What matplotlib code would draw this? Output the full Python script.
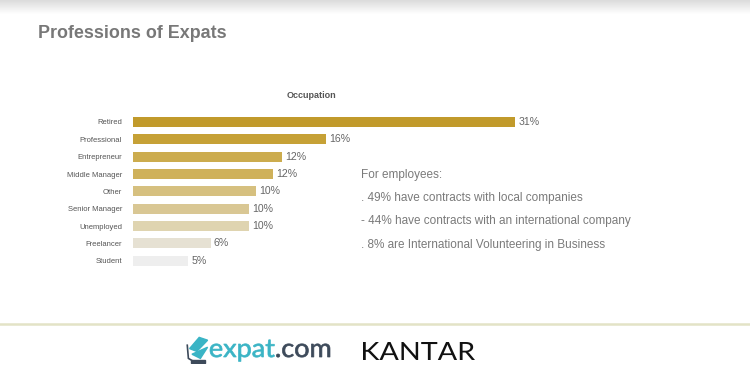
import matplotlib
matplotlib.use("Agg")
import matplotlib.pyplot as plt
import numpy as np
from matplotlib.patches import Rectangle, Polygon, PathPatch
from matplotlib.textpath import TextPath
from matplotlib.font_manager import FontProperties
from matplotlib.transforms import Affine2D

categories = ["Retired", "Professional", "Entrepreneur", "Middle Manager", "Other",
              "Senior Manager", "Unemployed", "Freelancer", "Student"]
values = [31.0, 15.7, 12.1, 11.4, 10.0, 9.4, 9.4, 6.3, 4.5]
value_labels = ["31%", "16%", "12%", "12%", "10%", "10%", "10%", "6%", "5%"]
bar_colors = ["#C19A2B", "#C6A136", "#CCAC4E", "#CFB15A", "#D6C07F",
              "#D9C794", "#DFD4B0", "#E6E1D3", "#EEEEEE"]
notes = ["For employees:",
         ". 49% have contracts with local companies",
         "- 44% have contracts with an international company",
         ". 8% are International Volunteering in Business"]

W, H = 750, 375
fig = plt.figure(figsize=(7.5, 3.75), dpi=100)
fig.patch.set_facecolor("white")

def fx(px):
    return px / W

def fy(py):
    return 1 - py / H

# top shadow gradient
bg = fig.add_axes([0, fy(14), 1, 14 / H])
grad = np.linspace(0.86, 1.0, 50).reshape(-1, 1)
bg.imshow(np.dstack([grad, grad, grad]), aspect="auto", extent=[0, 1, 0, 1])
bg.axis("off")

family = ["Liberation Sans", "DejaVu Sans"]

fig.text(fx(38), fy(33), "Professions of Expats", fontsize=12.9, fontweight="bold",
         color="#787878", va="center", ha="left", family=family)
fig.text(fx(311), fy(96), "Occupation", fontsize=6.5, fontweight="bold",
         color="#555555", va="center", ha="center", family=family)

# bar axes
left_px, right_px = 133, 700
top_px, step = 122, 17.35
n = len(categories)
ax_top = top_px - step / 2
ax_bot = top_px + step * (n - 1) + step / 2
ax = fig.add_axes([fx(left_px), fy(ax_bot), (right_px - left_px) / W, (ax_bot - ax_top) / H])
px_per = 382 / 31.0
ax.set_xlim(0, (right_px - left_px) / px_per)
ax.set_ylim(n - 0.5, -0.5)
y = np.arange(n)
ax.barh(y, values, height=0.58, color=bar_colors)
for yi, v, lab in zip(y, values, value_labels):
    ax.text(v + 0.25, yi, lab, va="center", ha="left", fontsize=7.6, color="#666666",
            family=family)
ax.set_yticks(y)
ax.set_yticklabels(categories, fontsize=5.5, color="#555555", family=family)
ax.tick_params(axis="y", length=0, pad=8)
ax.set_xticks([])
for s in ax.spines.values():
    s.set_visible(False)
ax.patch.set_alpha(0)

# notes
note_y = [175, 198, 221, 245]
for t, yy in zip(notes, note_y):
    fig.text(fx(361), fy(yy), t, fontsize=8.5, color="#7A7A7A", va="center", ha="left",
             family=family)

# footer line
fig.add_artist(plt.Line2D([0, 1], [fy(324), fy(324)], color="#E3E3C6", lw=1.8,
                          transform=fig.transFigure))

# text-as-path helper in pixel coordinates (image y downward)
def path_text(parts, x0, x1, baseline, prop, height=None, sy=None, stroke=0.0):
    full = "".join(p[0] for p in parts)
    tp = TextPath((0, 0), full, size=10, prop=prop)
    ext = tp.get_extents()
    sx = (x1 - x0) / ext.width
    if sy is None:
        sy = sx if height is None else height / ext.height
    offset = 0.0
    for txt, col in parts:
        p = TextPath((offset, 0), txt, size=10, prop=prop)
        tr = Affine2D().translate(-ext.x0, 0).scale(sx, sy).translate(x0, H - baseline)
        patch = PathPatch(p, facecolor=col, edgecolor=col if stroke else "none",
                          lw=stroke, transform=tr)
        fig.add_artist(patch)
        adv = TextPath((0, 0), txt + "|", size=10, prop=prop).get_extents().x1 - \
            TextPath((0, 0), "|", size=10, prop=prop).get_extents().x1
        offset += adv

lato = FontProperties(family="Lato")
xh = TextPath((0, 0), "x", size=10, prop=lato).get_extents().height
path_text([("expat", "#3AB4C5"), (".com", "#3D4A5A")], 210, 330, 357, lato,
          sy=13 / xh, stroke=0.5)
path_text([("KANTAR", "#111111")], 363, 475, 360, lato, height=18)

# expat.com icon approximation
icon = fig.add_axes([fx(186), fy(364), 24 / W, 28 / H])
icon.set_xlim(0, 1)
icon.set_ylim(0, 1)
icon.axis("off")
icon.add_patch(Polygon([[0.15, 0.55], [0.55, 0.95], [0.9, 0.85], [0.45, 0.45]],
                       closed=True, color="#3AB4C5"))
icon.add_patch(Polygon([[0.25, 0.35], [0.9, 0.6], [0.6, 0.2]], closed=True, color="#3AB4C5"))
icon.add_patch(Rectangle((0.2, 0.05), 0.6, 0.08, color="#3D4A5A"))
icon.add_patch(Polygon([[0.05, 0.7], [0.1, 0.2], [0.3, 0.1]], closed=False, fill=False,
                       edgecolor="#3D4A5A", lw=1.2))

fig.savefig("out.png", dpi=100, facecolor="white")
